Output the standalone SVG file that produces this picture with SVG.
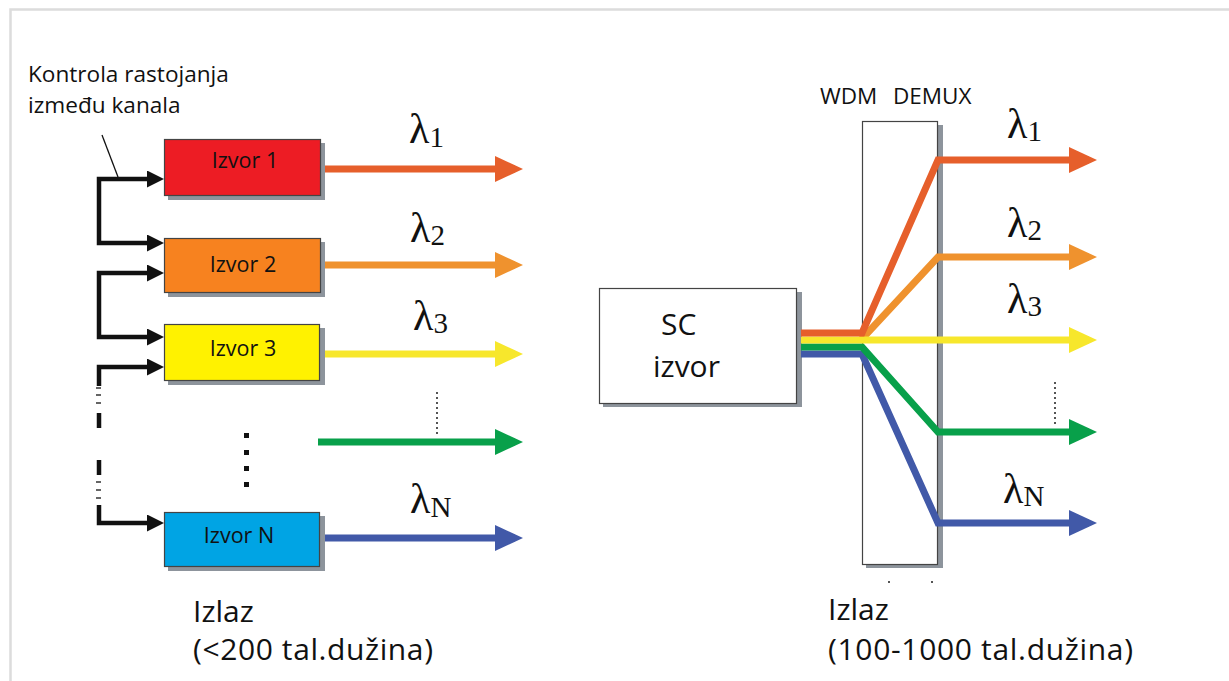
<svg xmlns="http://www.w3.org/2000/svg" width="1229" height="681" viewBox="0 0 1229 681">
<style>
.t{font-family:"Open Sans","Liberation Sans",sans-serif;fill:#111}
.lam{font-family:"Liberation Serif","Times New Roman",serif;font-size:42px;fill:#111}
.sub{font-size:29px}
.box{stroke:#444;stroke-width:1.2}
.shadow{fill:#8d949c}
.ctl{fill:none;stroke:#111;stroke-width:4.5;stroke-linejoin:miter}
.fib{fill:none;stroke-width:7;stroke-linejoin:miter}
.dots{stroke:#555;stroke-width:2;stroke-dasharray:2 3}
</style>
<defs>
<marker id="hk" markerUnits="userSpaceOnUse" markerWidth="17" markerHeight="17" refX="5" refY="8.5" orient="auto-start-reverse"><path d="M0,0 L17,8.5 L0,17 z" fill="#111"/></marker>
<marker id="hr" markerUnits="userSpaceOnUse" markerWidth="28" markerHeight="26" refX="20" refY="13" orient="auto"><path d="M0,0 L28,13 L0,26 z" fill="#e65f2b"/></marker>
<marker id="ho" markerUnits="userSpaceOnUse" markerWidth="28" markerHeight="26" refX="20" refY="13" orient="auto"><path d="M0,0 L28,13 L0,26 z" fill="#ef922e"/></marker>
<marker id="hy" markerUnits="userSpaceOnUse" markerWidth="28" markerHeight="26" refX="20" refY="13" orient="auto"><path d="M0,0 L28,13 L0,26 z" fill="#f7e72c"/></marker>
<marker id="hg" markerUnits="userSpaceOnUse" markerWidth="28" markerHeight="26" refX="20" refY="13" orient="auto"><path d="M0,0 L28,13 L0,26 z" fill="#08a04a"/></marker>
<marker id="hb" markerUnits="userSpaceOnUse" markerWidth="28" markerHeight="26" refX="20" refY="13" orient="auto"><path d="M0,0 L28,13 L0,26 z" fill="#4159a8"/></marker>
</defs>
<rect width="1229" height="681" fill="#fff"/>
<path d="M10.5,681 V9.5 H1229" fill="none" stroke="#dcdcdc" stroke-width="2.5"/>

<g id="label-kontrola">
<text class="t" x="28" y="82" font-size="22.6">Kontrola rastojanja</text>
<text class="t" x="28" y="113" font-size="22.6">između kanala</text>
</g>

<g id="izvor1">
<rect class="shadow" x="168" y="143" width="157" height="57"/>
<rect class="box" x="164.5" y="139.5" width="156" height="56" fill="#ed1c24"/>
<text class="t" x="245" y="168" font-size="21.5" text-anchor="middle">Izvor 1</text>
</g>
<g id="izvor2">
<rect class="shadow" x="168" y="242" width="157" height="55"/>
<rect class="box" x="164.5" y="238.5" width="156" height="54" fill="#f7821f"/>
<text class="t" x="243" y="272" font-size="21.5" text-anchor="middle">Izvor 2</text>
</g>
<g id="izvor3">
<rect class="shadow" x="168" y="328" width="157" height="57"/>
<rect class="box" x="164.5" y="324.5" width="155" height="56" fill="#fff200"/>
<text class="t" x="243" y="356" font-size="21.5" text-anchor="middle">Izvor 3</text>
</g>
<g id="izvorN">
<rect class="shadow" x="168" y="516" width="157" height="55"/>
<rect class="box" x="164.5" y="512.5" width="155" height="54" fill="#00a4e4"/>
<text class="t" x="239" y="543" font-size="21.5" text-anchor="middle">Izvor N</text>
</g>

<g id="sc-izvor">
<rect class="shadow" x="603" y="292" width="199" height="115"/>
<rect class="box" x="599.5" y="288.5" width="197" height="115" fill="#fff"/>
<text class="t" x="661" y="335" font-size="30">SC</text>
<text class="t" x="653" y="377" font-size="30">izvor</text>
</g>

<g id="wdm-demux">
<rect class="shadow" x="866" y="125" width="77" height="443"/>
<rect class="box" x="862.5" y="121.5" width="75" height="443" fill="#fff"/>
<text class="t" font-size="22.5"><tspan x="820" y="104">WDM</tspan><tspan x="893" y="104">DEMUX</tspan></text>
<rect x="888" y="581" width="2" height="2" fill="#555"/>
<rect x="931" y="581" width="2" height="2" fill="#555"/>
</g>

<g id="connectors">
<line x1="102" y1="135" x2="118" y2="177" stroke="#111" stroke-width="1.3"/>
<path class="ctl" d="M152,179 H99 V243 H152" marker-start="url(#hk)" marker-end="url(#hk)"/>
<path class="ctl" d="M152,273 H99 V337 H152" marker-start="url(#hk)" marker-end="url(#hk)"/>
<path class="ctl" d="M152,367 H99 V386" marker-start="url(#hk)"/>
<path class="ctl" d="M99,413 V428 M99,460 V475"/>
<path d="M96,388 H101 M96,395 H101 M96,403 H101 M96,482 H101 M96,490 H101 M96,498 H101" stroke="#333" stroke-width="1.3"/>
<path class="ctl" d="M99,505 V523 H152" marker-end="url(#hk)"/>

<g fill="#111">
<rect x="244" y="433" width="5" height="5"/>
<rect x="244" y="450" width="5" height="5"/>
<rect x="244" y="466" width="5" height="5"/>
<rect x="244" y="482" width="5" height="5"/>
</g>

<line class="fib" x1="325" y1="169" x2="515" y2="169" stroke="#e65f2b" marker-end="url(#hr)"/>
<line class="fib" x1="325" y1="265" x2="515" y2="265" stroke="#ef922e" marker-end="url(#ho)"/>
<line class="fib" x1="325" y1="354" x2="515" y2="354" stroke="#f7e72c" marker-end="url(#hy)"/>
<line class="fib" x1="318" y1="442" x2="515" y2="442" stroke="#08a04a" marker-end="url(#hg)"/>
<line class="fib" x1="325" y1="538" x2="515" y2="538" stroke="#4159a8" marker-end="url(#hb)"/>
<line class="dots" x1="437" y1="392" x2="437" y2="436"/>

<path class="fib" d="M860,341 L938,257 H1089" stroke="#ef922e" marker-end="url(#ho)"/>
<path class="fib" d="M801,354 H862 L938,523 H1089" stroke="#4159a8" marker-end="url(#hb)"/>
<path class="fib" d="M801,347 H862 L938,432 H1089" stroke="#08a04a" marker-end="url(#hg)"/>
<path class="fib" d="M801,340 H1089" stroke="#f7e72c" marker-end="url(#hy)"/>
<path class="fib" d="M801,333 H862 L938,160 H1089" stroke="#e65f2b" marker-end="url(#hr)"/>
<line class="dots" x1="1055" y1="382" x2="1055" y2="424"/>
</g>

<g id="lambda-labels">
<text class="lam" x="409" y="143">λ<tspan class="sub" dy="4">1</tspan></text>
<text class="lam" x="410" y="242">λ<tspan class="sub" dy="3">2</tspan></text>
<text class="lam" x="413" y="330">λ<tspan class="sub" dy="3">3</tspan></text>
<text class="lam" x="410" y="513">λ<tspan class="sub" dy="4">N</tspan></text>
<text class="lam" x="1007" y="138">λ<tspan class="sub" dy="3">1</tspan></text>
<text class="lam" x="1007" y="237">λ<tspan class="sub" dy="3">2</tspan></text>
<text class="lam" x="1007" y="313">λ<tspan class="sub" dy="3">3</tspan></text>
<text class="lam" x="1003" y="503">λ<tspan class="sub" dy="3">N</tspan></text>
</g>

<g id="izlaz-labels">
<text class="t" x="193" y="622" font-size="30">Izlaz</text>
<text class="t" x="193" y="660" font-size="30" textLength="240">(&lt;200 tal.dužina)</text>
<text class="t" x="828" y="620" font-size="30">Izlaz</text>
<text class="t" x="828" y="660" font-size="30" textLength="305">(100-1000 tal.dužina)</text>
</g>
</svg>
